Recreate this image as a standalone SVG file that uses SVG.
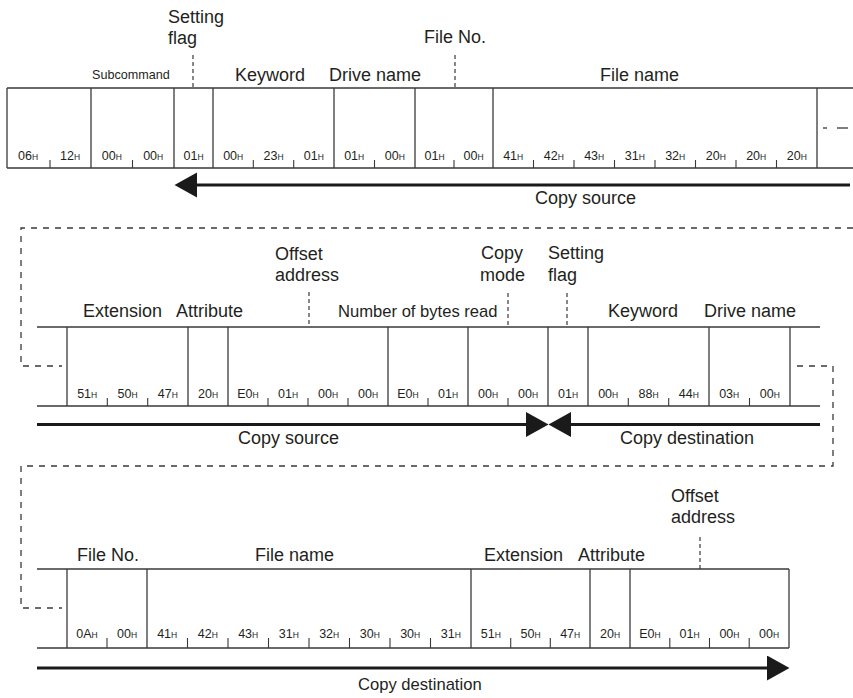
<svg xmlns="http://www.w3.org/2000/svg" width="853" height="698" viewBox="0 0 853 698">
<style>
text{font-family:"Liberation Sans",Arial,sans-serif;fill:#231f20}
.lbl{font-size:18px}
.sm{font-size:12.6px}
.nb{font-size:16.6px}
.v{font-size:12.5px;text-anchor:middle}
.h{font-size:8.5px}
.fr{stroke:#3a3a3a;stroke-width:1.3;fill:none}
.tk{stroke:#3a3a3a;stroke-width:1.1}
.ld{stroke:#3a3a3a;stroke-width:1.2;stroke-dasharray:4 3;fill:none}
.cn{stroke:#3a3a3a;stroke-width:1.3;stroke-dasharray:6 6;fill:none}
.ar{stroke:#1a1a1a;stroke-width:3;fill:none}
</style>
<defs>
<marker id="ah" markerUnits="userSpaceOnUse" markerWidth="23" markerHeight="26" refX="0" refY="12.5" orient="auto" viewBox="0 0 23 26">
<path d="M0,0 L22.5,12.5 L0,25 Z" fill="#1a1a1a"/>
</marker>
</defs>

<!-- ROW 1 -->
<g id="row1">
<path class="fr" d="M7,88 H853 M7,168 H853 M7,88 V168 M91,88 V168 M174,88 V168 M213,88 V168 M334,88 V168 M415,88 V168 M493,88 V168 M817,88 V168"/>
<g id="r1-cmd">
<text class="v" x="28" y="160">06<tspan class="h">H</tspan></text>
<text class="v" x="70" y="160">12<tspan class="h">H</tspan></text>
<line class="tk" x1="50" y1="160" x2="50" y2="168"/>
</g>
<g id="r1-subcommand">
<text class="sm" x="92" y="79">Subcommand</text>
<text class="v" x="111.8" y="160">00<tspan class="h">H</tspan></text>
<text class="v" x="153.2" y="160">00<tspan class="h">H</tspan></text>
<line class="tk" x1="132.5" y1="160" x2="132.5" y2="168"/>
</g>
<g id="r1-setting-flag">
<text class="lbl" x="168" y="23">Setting</text>
<text class="lbl" x="168" y="44">flag</text>
<line class="ld" x1="193" y1="55" x2="193" y2="88"/>
<text class="v" x="193.5" y="160">01<tspan class="h">H</tspan></text>
</g>
<g id="r1-keyword">
<text class="lbl" x="235" y="81">Keyword</text>
<text class="v" x="233.2" y="160">00<tspan class="h">H</tspan></text>
<text class="v" x="273.5" y="160">23<tspan class="h">H</tspan></text>
<text class="v" x="313.8" y="160">01<tspan class="h">H</tspan></text>
<line class="tk" x1="253.3" y1="160" x2="253.3" y2="168"/>
<line class="tk" x1="293.7" y1="160" x2="293.7" y2="168"/>
</g>
<g id="r1-drive-name">
<text class="lbl" x="329" y="81">Drive name</text>
<text class="v" x="354.2" y="160">01<tspan class="h">H</tspan></text>
<text class="v" x="394.8" y="160">00<tspan class="h">H</tspan></text>
<line class="tk" x1="374.5" y1="160" x2="374.5" y2="168"/>
</g>
<g id="r1-file-no">
<text class="lbl" x="424" y="43">File No.</text>
<line class="ld" x1="455" y1="55" x2="455" y2="88"/>
<text class="v" x="434.5" y="160">01<tspan class="h">H</tspan></text>
<text class="v" x="473.5" y="160">00<tspan class="h">H</tspan></text>
<line class="tk" x1="454" y1="160" x2="454" y2="168"/>
</g>
<g id="r1-file-name">
<text class="lbl" x="600" y="81">File name</text>
<text class="v" x="513.2" y="160">41<tspan class="h">H</tspan></text>
<text class="v" x="553.8" y="160">42<tspan class="h">H</tspan></text>
<text class="v" x="594.2" y="160">43<tspan class="h">H</tspan></text>
<text class="v" x="634.8" y="160">31<tspan class="h">H</tspan></text>
<text class="v" x="675.2" y="160">32<tspan class="h">H</tspan></text>
<text class="v" x="715.8" y="160">20<tspan class="h">H</tspan></text>
<text class="v" x="756.2" y="160">20<tspan class="h">H</tspan></text>
<text class="v" x="796.8" y="160">20<tspan class="h">H</tspan></text>
<line class="tk" x1="533.5" y1="160" x2="533.5" y2="168"/>
<line class="tk" x1="574" y1="160" x2="574" y2="168"/>
<line class="tk" x1="614.5" y1="160" x2="614.5" y2="168"/>
<line class="tk" x1="655" y1="160" x2="655" y2="168"/>
<line class="tk" x1="695.5" y1="160" x2="695.5" y2="168"/>
<line class="tk" x1="736" y1="160" x2="736" y2="168"/>
<line class="tk" x1="776.5" y1="160" x2="776.5" y2="168"/>
</g>
<text class="lbl" x="535" y="204">Copy source</text>
</g>

<!-- ROW 2 -->
<g id="row2">
<path class="fr" d="M37,327 H820 M37,406 H820 M67,327 V406 M188,327 V406 M228,327 V406 M388,327 V406 M468,327 V406 M548,327 V406 M588,327 V406 M709,327 V406 M790,327 V406"/>
<g id="r2-extension">
<text class="lbl" x="83" y="317">Extension</text>
<text class="v" x="87.2" y="398">51<tspan class="h">H</tspan></text>
<text class="v" x="127.5" y="398">50<tspan class="h">H</tspan></text>
<text class="v" x="167.8" y="398">47<tspan class="h">H</tspan></text>
<line class="tk" x1="107.3" y1="398" x2="107.3" y2="406"/>
<line class="tk" x1="147.7" y1="398" x2="147.7" y2="406"/>
</g>
<g id="r2-attribute">
<text class="lbl" x="176" y="317">Attribute</text>
<text class="v" x="208" y="398">20<tspan class="h">H</tspan></text>
</g>
<g id="r2-offset-address">
<text class="lbl" x="275" y="260">Offset</text>
<text class="lbl" x="275" y="281">address</text>
<line class="ld" x1="309" y1="292" x2="309" y2="327"/>
<text class="v" x="248" y="398">E0<tspan class="h">H</tspan></text>
<text class="v" x="288" y="398">01<tspan class="h">H</tspan></text>
<text class="v" x="328" y="398">00<tspan class="h">H</tspan></text>
<text class="v" x="368" y="398">00<tspan class="h">H</tspan></text>
<line class="tk" x1="268" y1="398" x2="268" y2="406"/>
<line class="tk" x1="308" y1="398" x2="308" y2="406"/>
<line class="tk" x1="348" y1="398" x2="348" y2="406"/>
</g>
<g id="r2-bytes-read">
<text class="nb" x="338" y="317">Number of bytes read</text>
<text class="v" x="408" y="398">E0<tspan class="h">H</tspan></text>
<text class="v" x="448" y="398">01<tspan class="h">H</tspan></text>
<line class="tk" x1="428" y1="398" x2="428" y2="406"/>
</g>
<g id="r2-copy-mode">
<text class="lbl" x="481" y="259">Copy</text>
<text class="lbl" x="480" y="281">mode</text>
<line class="ld" x1="508" y1="293" x2="508" y2="327"/>
<text class="v" x="488" y="398">00<tspan class="h">H</tspan></text>
<text class="v" x="528" y="398">00<tspan class="h">H</tspan></text>
<line class="tk" x1="508" y1="398" x2="508" y2="406"/>
</g>
<g id="r2-setting-flag">
<text class="lbl" x="548" y="259">Setting</text>
<text class="lbl" x="548" y="281">flag</text>
<line class="ld" x1="567" y1="293" x2="567" y2="327"/>
<text class="v" x="568" y="398">01<tspan class="h">H</tspan></text>
</g>
<g id="r2-keyword">
<text class="lbl" x="608" y="317">Keyword</text>
<text class="v" x="608.2" y="398">00<tspan class="h">H</tspan></text>
<text class="v" x="648.5" y="398">88<tspan class="h">H</tspan></text>
<text class="v" x="688.8" y="398">44<tspan class="h">H</tspan></text>
<line class="tk" x1="628.3" y1="398" x2="628.3" y2="406"/>
<line class="tk" x1="668.7" y1="398" x2="668.7" y2="406"/>
</g>
<g id="r2-drive-name">
<text class="lbl" x="704" y="317">Drive name</text>
<text class="v" x="729.2" y="398">03<tspan class="h">H</tspan></text>
<text class="v" x="769.8" y="398">00<tspan class="h">H</tspan></text>
<line class="tk" x1="749.5" y1="398" x2="749.5" y2="406"/>
</g>
<text class="lbl" x="238" y="444">Copy source</text>
<text class="lbl" x="620" y="444">Copy destination</text>
</g>

<!-- ROW 3 -->
<g id="row3">
<path class="fr" d="M37,569 H789 M37,648 H789 M67,569 V648 M147,569 V648 M471,569 V648 M590,569 V648 M630,569 V648 M789,569 V648"/>
<g id="r3-file-no">
<text class="lbl" x="77" y="561">File No.</text>
<text class="v" x="87" y="638">0A<tspan class="h">H</tspan></text>
<text class="v" x="127" y="638">00<tspan class="h">H</tspan></text>
<line class="tk" x1="107" y1="638" x2="107" y2="648"/>
</g>
<g id="r3-file-name">
<text class="lbl" x="255" y="561">File name</text>
<text class="v" x="167.2" y="638">41<tspan class="h">H</tspan></text>
<text class="v" x="207.8" y="638">42<tspan class="h">H</tspan></text>
<text class="v" x="248.2" y="638">43<tspan class="h">H</tspan></text>
<text class="v" x="288.8" y="638">31<tspan class="h">H</tspan></text>
<text class="v" x="329.2" y="638">32<tspan class="h">H</tspan></text>
<text class="v" x="369.8" y="638">30<tspan class="h">H</tspan></text>
<text class="v" x="410.2" y="638">30<tspan class="h">H</tspan></text>
<text class="v" x="450.8" y="638">31<tspan class="h">H</tspan></text>
<line class="tk" x1="187.5" y1="638" x2="187.5" y2="648"/>
<line class="tk" x1="228" y1="638" x2="228" y2="648"/>
<line class="tk" x1="268.5" y1="638" x2="268.5" y2="648"/>
<line class="tk" x1="309" y1="638" x2="309" y2="648"/>
<line class="tk" x1="349.5" y1="638" x2="349.5" y2="648"/>
<line class="tk" x1="390" y1="638" x2="390" y2="648"/>
<line class="tk" x1="430.5" y1="638" x2="430.5" y2="648"/>
</g>
<g id="r3-extension">
<text class="lbl" x="484" y="561">Extension</text>
<text class="v" x="490.8" y="638">51<tspan class="h">H</tspan></text>
<text class="v" x="530.5" y="638">50<tspan class="h">H</tspan></text>
<text class="v" x="570.2" y="638">47<tspan class="h">H</tspan></text>
<line class="tk" x1="510.7" y1="638" x2="510.7" y2="648"/>
<line class="tk" x1="550.3" y1="638" x2="550.3" y2="648"/>
</g>
<g id="r3-attribute">
<text class="lbl" x="578" y="561">Attribute</text>
<text class="v" x="610" y="638">20<tspan class="h">H</tspan></text>
</g>
<g id="r3-offset-address">
<text class="lbl" x="671" y="502">Offset</text>
<text class="lbl" x="671" y="523">address</text>
<line class="ld" x1="700" y1="537" x2="700" y2="569"/>
<text class="v" x="649.9" y="638">E0<tspan class="h">H</tspan></text>
<text class="v" x="689.6" y="638">01<tspan class="h">H</tspan></text>
<text class="v" x="729.4" y="638">00<tspan class="h">H</tspan></text>
<text class="v" x="769.1" y="638">00<tspan class="h">H</tspan></text>
<line class="tk" x1="669.8" y1="638" x2="669.8" y2="648"/>
<line class="tk" x1="709.5" y1="638" x2="709.5" y2="648"/>
<line class="tk" x1="749.2" y1="638" x2="749.2" y2="648"/>
</g>
<text class="nb" x="358" y="690">Copy destination</text>
</g>

<!-- CONNECTORS -->
<g id="connectors">
<line class="fr" x1="823" y1="128" x2="827" y2="128"/>
<line class="fr" x1="837" y1="128" x2="848" y2="128"/>
<path class="cn" d="M853,228 H21 V366 H62"/>
<path class="cn" d="M797,366 H833 V466 H21 V608 H62"/>
<line class="ar" x1="850" y1="185" x2="197" y2="185" marker-end="url(#ah)"/>
<line class="ar" x1="37" y1="424.5" x2="526" y2="424.5" marker-end="url(#ah)"/>
<line class="ar" x1="820" y1="424.5" x2="571" y2="424.5" marker-end="url(#ah)"/>
<line class="ar" x1="37" y1="668" x2="767" y2="668" marker-end="url(#ah)"/>
</g>
</svg>
